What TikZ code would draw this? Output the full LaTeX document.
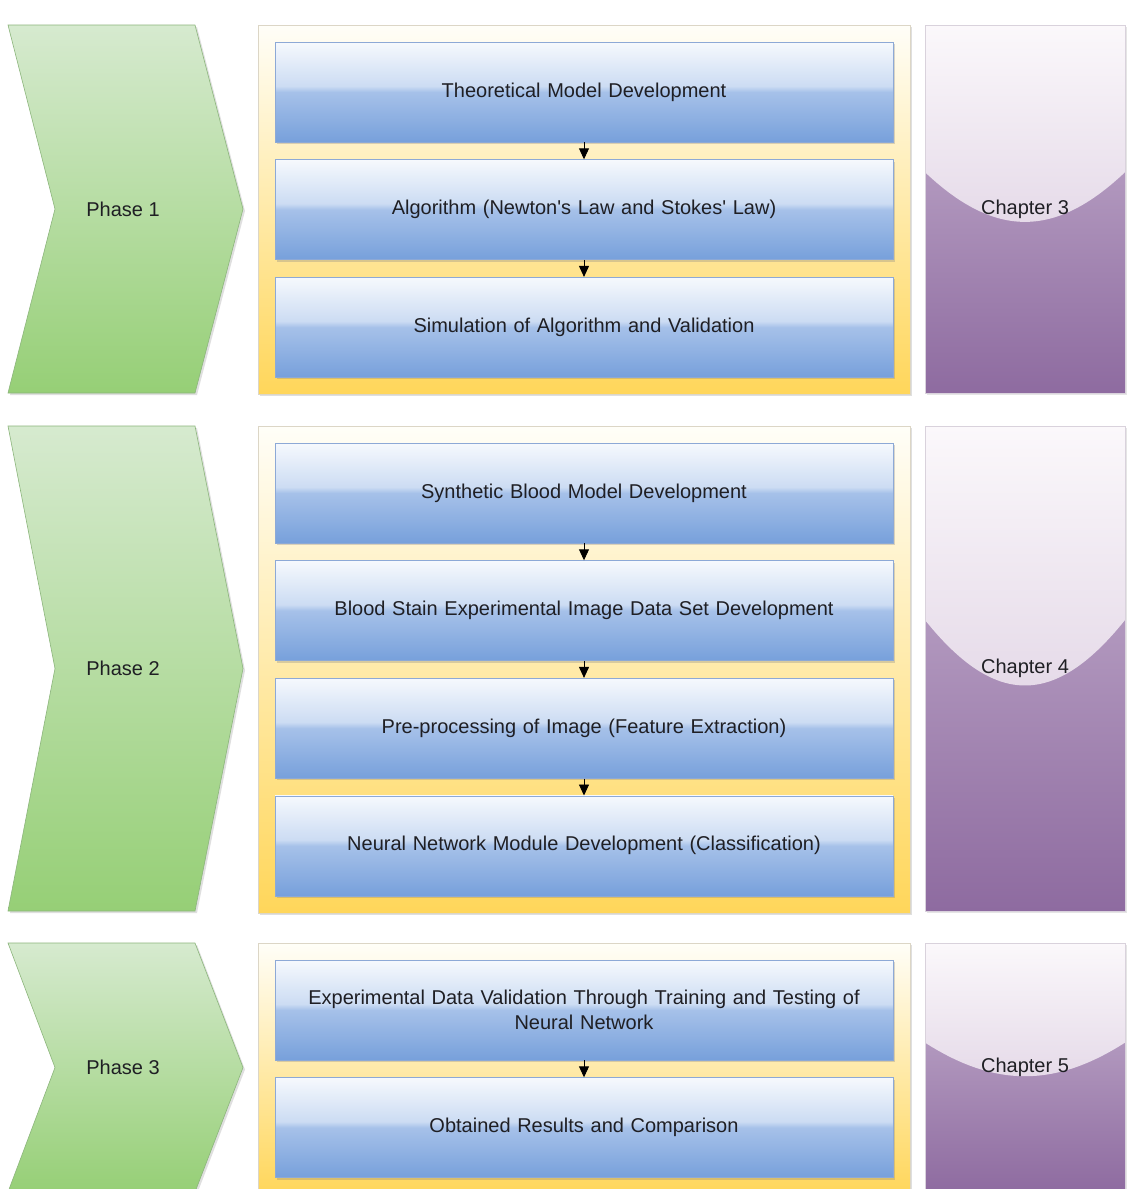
\documentclass[tikz,border=0pt]{standalone}
\usepackage{fontspec}
\setmainfont{Liberation Sans}
\usetikzlibrary{positioning,arrows.meta,fit,backgrounds,shadows,calc}
\definecolor{inktext}{HTML}{1F1F24}
\definecolor{tasktop}{HTML}{F6F9FD}
\definecolor{taskhigh}{HTML}{CCDCF3}
\definecolor{tasklow}{HTML}{A6C1E9}
\definecolor{taskbot}{HTML}{77A0DB}
\definecolor{taskedge}{HTML}{8DA9D6}
\definecolor{stagetop}{HTML}{FFFEF8}
\definecolor{stagebot}{HTML}{FFD65A}
\definecolor{stageedge}{HTML}{DCD6C6}
\definecolor{phasetop}{HTML}{D6EACF}
\definecolor{phasebot}{HTML}{96CF76}
\definecolor{phaseedge}{HTML}{8CB57C}
\definecolor{chaptop}{HTML}{FBF8FB}
\definecolor{chaparc}{HTML}{D3C1D9}
\definecolor{chaplow}{HTML}{C9B6D2}
\definecolor{chapbot}{HTML}{8E6BA0}
\definecolor{chapedge}{HTML}{D9D2DC}
\pgfdeclareverticalshading{taskglass}{100bp}{color(0bp)=(taskbot); color(25bp)=(taskbot); color(50bp)=(tasklow); color(53bp)=(taskhigh); color(75bp)=(tasktop); color(100bp)=(tasktop)}
\tikzset{
    taskbox/.style={
        draw=taskedge, line width=0.6pt, shading=taskglass,
        minimum width=618pt, minimum height=100pt, text width=590pt,
        font=\fontsize{20}{25}\selectfont, text=inktext, align=center,
        drop shadow={shadow xshift=1.5pt, shadow yshift=-2pt, opacity=0.3}
    },
    stagebox/.style={
        draw=stageedge, line width=0.5pt, top color=stagetop, bottom color=stagebot,
        inner sep=16.7pt,
        drop shadow={shadow xshift=1.5pt, shadow yshift=-2pt, opacity=0.25}
    },
    phasearrow/.style={
        draw=phaseedge, line width=0.6pt, top color=phasetop, bottom color=phasebot,
        drop shadow={shadow xshift=2pt, shadow yshift=-2pt, opacity=0.25}
    },
    phaselabel/.style={font=\fontsize{20}{24}\selectfont, text=inktext},
    chapbox/.style={
        draw=chapedge, line width=0.4pt, top color=chaplow, bottom color=chapbot,
        minimum width=200pt, font=\fontsize{20}{24}\selectfont, text=inktext,
        drop shadow={shadow xshift=1.5pt, shadow yshift=-2pt, opacity=0.2},
        path picture={
            \shade[top color=chaptop, bottom color=chaparc]
                (path picture bounding box.north west) -- (path picture bounding box.north east)
                -- ($(path picture bounding box.north east)!0.4!(path picture bounding box.south east)$)
                .. controls ($(path picture bounding box.north east)!0.58!(path picture bounding box.south east)+(-70,0)$)
                and ($(path picture bounding box.north west)!0.58!(path picture bounding box.south west)+(70,0)$)
                .. ($(path picture bounding box.north west)!0.4!(path picture bounding box.south west)$) -- cycle;
        }
    },
    flowarrow/.style={-{Triangle[length=11pt,width=10pt]}, line width=0.9pt, black},
}

\begin{document}
\begin{tikzpicture}[x=1pt, y=1pt, node distance=17pt]
    \useasboundingbox (0,0) rectangle (1127,-1189);

    % phase 1 steps
    \node[taskbox] (t1) at (584,-92) {Theoretical Model Development};
    \node[taskbox, below=of t1] (t2) {Algorithm (Newton\textquotesingle s Law and Stokes\textquotesingle\ Law)};
    \node[taskbox, below=of t2] (t3) {Simulation of Algorithm and Validation};
    \draw[flowarrow] (t1) -- (t2);
    \draw[flowarrow] (t2) -- (t3);

    % phase 2 steps
    \node[taskbox] (t4) at (584,-493) {Synthetic Blood Model Development};
    \node[taskbox, below=of t4] (t5) {Blood Stain Experimental Image Data Set Development};
    \node[taskbox, below=of t5] (t6) {Pre-processing of Image (Feature Extraction)};
    \node[taskbox, below=of t6] (t7) {Neural Network Module Development (Classification)};
    \draw[flowarrow] (t4) -- (t5);
    \draw[flowarrow] (t5) -- (t6);
    \draw[flowarrow] (t6) -- (t7);

    % phase 3 steps
    \node[taskbox] (t8) at (584,-1010) {Experimental Data Validation Through Training and Testing of\\Neural Network};
    \node[taskbox, below=of t8] (t9) {Obtained Results and Comparison};
    \draw[flowarrow] (t8) -- (t9);

    \begin{scope}[on background layer]
        \fill[white] (0,0) rectangle (1127,-1189);
        \node[stagebox, fit=(t1)(t3)] (st1) {};
        \node[stagebox, fit=(t4)(t7)] (st2) {};
        \node[stagebox, fit=(t8)(t9)] (st3) {};
    \end{scope}

    % phase chevrons and chapters
    \foreach \n/\ya/\yb in {1/25/393, 2/426/911, 3/943/1192} {
        \pgfmathsetmacro\ym{(\ya+\yb)/2}
        \pgfmathtruncatemacro\chnum{\n+2}
        \draw[phasearrow] (8,-\ya) -- (195,-\ya) -- (243,-\ym) -- (195,-\yb) -- (8,-\yb) -- (55,-\ym) -- cycle;
        \node[phaselabel] (ph\n) at (123,-\ym) {Phase \n};
        \node[chapbox, minimum height=\yb-\ya] (ch\n) at (1025,-\ym) {Chapter \chnum};
    }
\end{tikzpicture}
\end{document}
